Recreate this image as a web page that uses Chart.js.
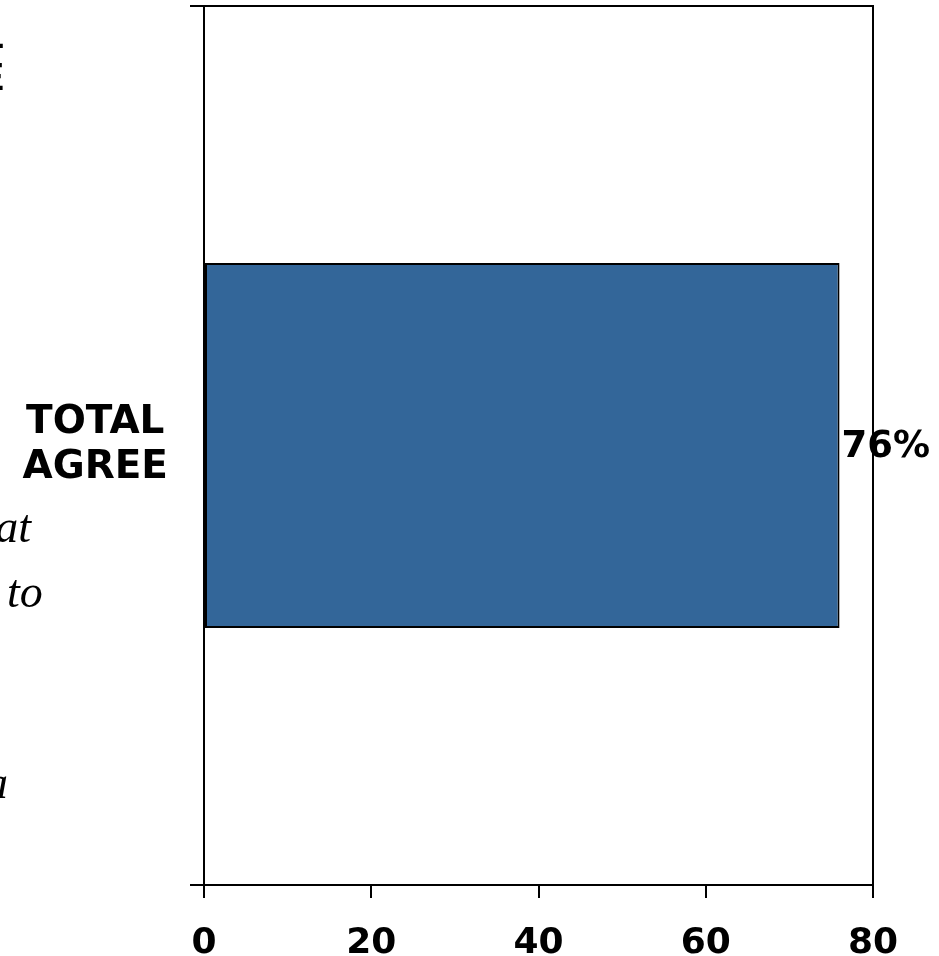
<html>

<head>
    <script src="https://cdn.jsdelivr.net/npm/chart.js"></script>
    <style>
        body { margin: 0; background: #fff; }
        #wrap { width: 939px; height: 956px; }
    </style>
</head>

<body>
    <div id="wrap">
        <canvas id="chart"></canvas>
    </div>
    <script>
        const categories = [['TOTAL', 'AGREE']];
        const agreeValues = [76];
        const xTicks = [0, 20, 40, 60, 80];

        // bits of neighbouring slide text that run in from the left edge
        const marginText = [
            { text: 'AL', x: 4, y: 48, font: 'bold 38px "Liberation Sans"', align: 'right' },
            { text: 'EE', x: 4, y: 90, font: 'bold 38px "Liberation Sans"', align: 'right' },
            { text: 'that', x: 31, y: 542, font: 'italic 46px "Liberation Serif"', align: 'right' },
            { text: 'to', x: 7, y: 607, font: 'italic 46px "Liberation Serif"', align: 'left' },
            { text: 'a', x: 8, y: 798, font: 'italic 46px "Liberation Serif"', align: 'right' },
        ];

        const frame = {
            id: 'frame',
            afterDraw(chart) {
                const { ctx, chartArea: a } = chart;
                ctx.save();
                ctx.strokeStyle = '#000';
                ctx.lineWidth = 2;
                ctx.beginPath();
                ctx.moveTo(a.left, a.top);
                ctx.lineTo(a.right, a.top);
                ctx.lineTo(a.right, a.bottom);
                ctx.stroke();

                // value label just past the end of each bar
                const meta = chart.getDatasetMeta(0);
                ctx.fillStyle = '#000';
                ctx.font = 'bold 37px "DejaVu Sans"';
                ctx.textAlign = 'left';
                ctx.textBaseline = 'middle';
                meta.data.forEach((bar, i) => {
                    ctx.fillText(agreeValues[i] + '%', bar.x + 2, bar.y + 2);
                });

                ctx.textBaseline = 'alphabetic';
                marginText.forEach(m => {
                    ctx.font = m.font;
                    ctx.textAlign = m.align;
                    ctx.fillText(m.text, m.x, m.y);
                });
                ctx.restore();
            }
        };

        new Chart(document.getElementById('chart'), {
            type: 'bar',
            data: {
                labels: categories,
                datasets: [{
                    data: agreeValues,
                    backgroundColor: '#336699',
                    borderColor: '#000',
                    borderWidth: 2,
                    borderSkipped: false,
                    barPercentage: 0.415,
                    categoryPercentage: 1
                }]
            },
            options: {
                indexAxis: 'y',
                responsive: true,
                maintainAspectRatio: false,
                animation: false,
                layout: { padding: { top: 6, right: 66, left: 0, bottom: 0 } },
                plugins: {
                    legend: { display: false },
                    tooltip: { enabled: false }
                },
                scales: {
                    x: {
                        min: 0,
                        max: 80,
                        afterBuildTicks: s => { s.ticks = xTicks.map(v => ({ value: v })); },
                        afterFit: s => { s.height = 71; s.paddingLeft = 0; s.paddingRight = 0; },
                        grid: { drawOnChartArea: false, color: '#000', lineWidth: 2, tickLength: 13 },
                        border: { color: '#000', width: 2 },
                        ticks: {
                            color: '#000',
                            padding: 24,
                            maxRotation: 0,
                            font: { family: 'DejaVu Sans', weight: 'bold', size: 36 }
                        }
                    },
                    y: {
                        afterFit: s => { s.width = 204; s.paddingTop = 0; s.paddingBottom = 0; },
                        grid: { drawOnChartArea: false, color: '#000', lineWidth: 2, tickLength: 14 },
                        border: { color: '#000', width: 2 },
                        ticks: {
                            color: '#000',
                            padding: 22,
                            crossAlign: 'center',
                            font: { family: 'DejaVu Sans', weight: 'bold', size: 39, lineHeight: 1.15 }
                        }
                    }
                }
            },
            plugins: [frame]
        });
    </script>
</body>

</html>
